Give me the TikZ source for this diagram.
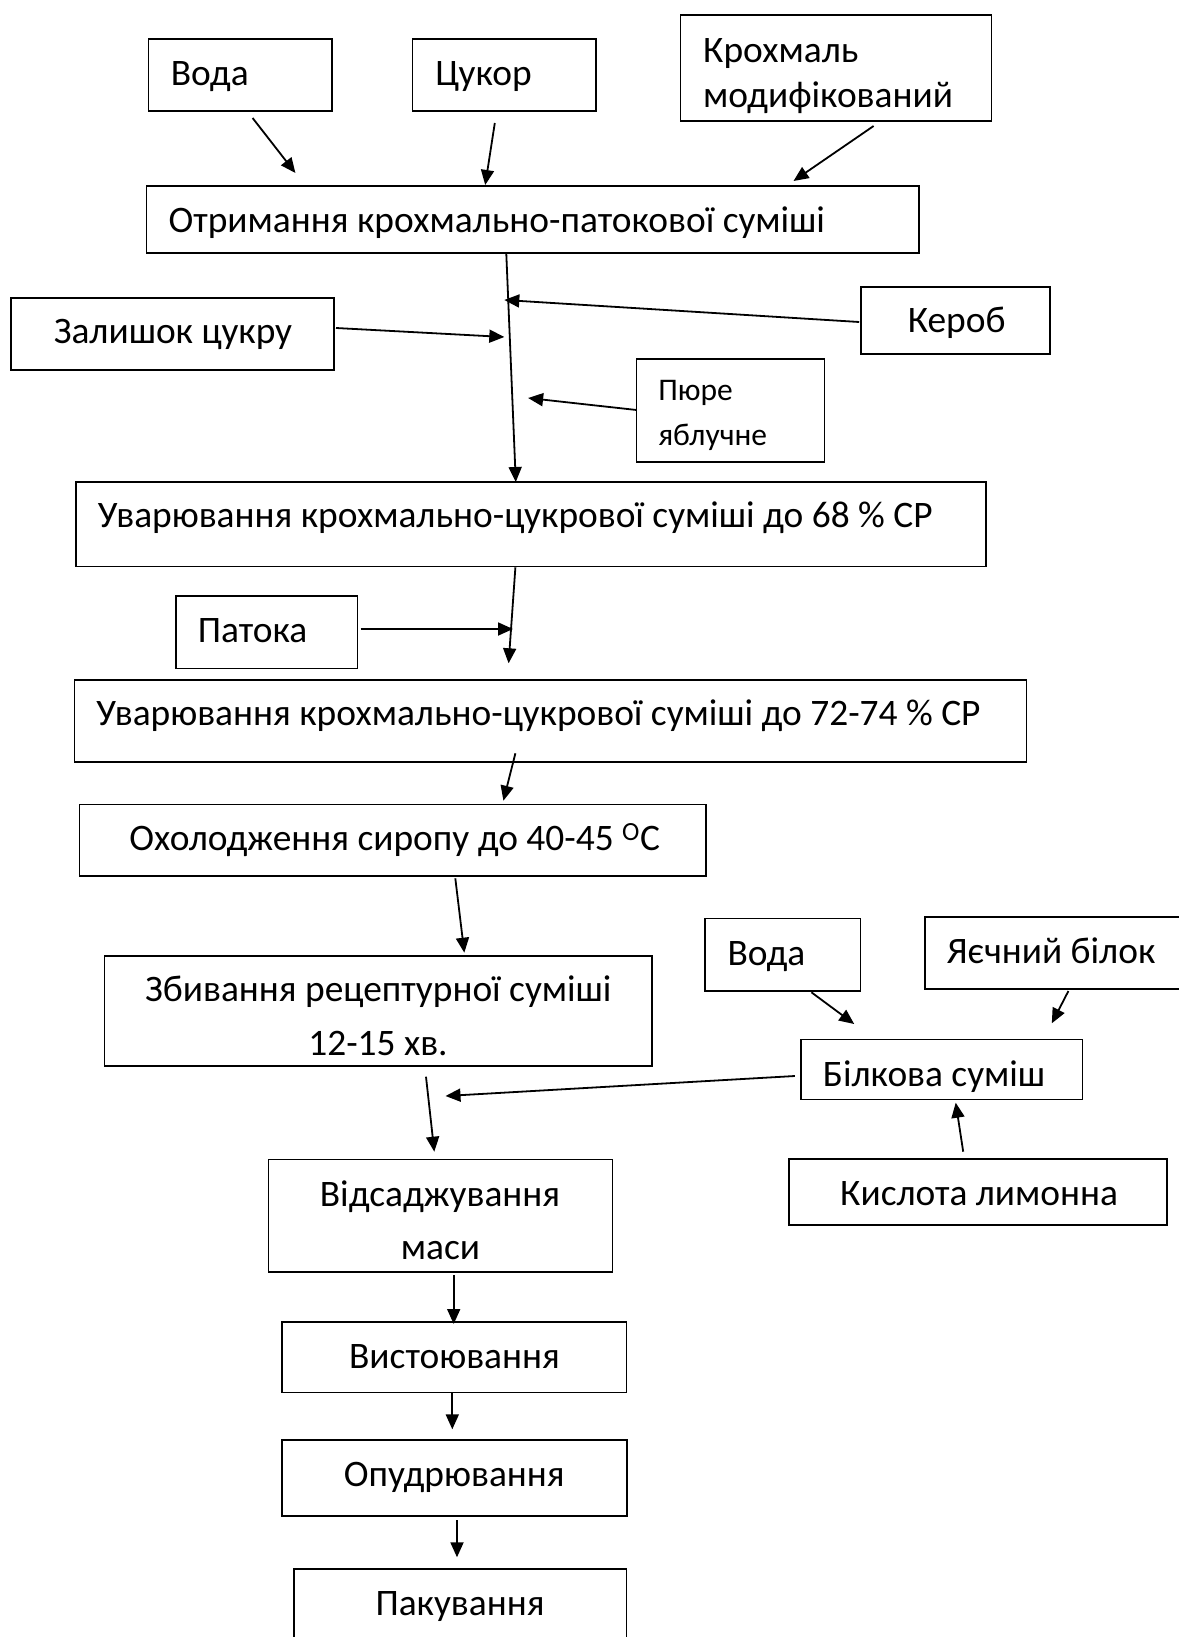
\documentclass[tikz,border=0pt]{standalone}
\usepackage{fontspec}
\setmainfont{Carlito}
\usetikzlibrary{arrows.meta}
\newcommand\mybox[5]{\node[box, minimum width={#4-#2}, minimum height={#5-#3}] (#1) at ({(#2+#4)/2},{(#3+#5)/2}) {};}
\begin{document}
\begin{tikzpicture}[x=1pt,y=-1pt,
  box/.style={draw=black, line width=1.6pt, rectangle, inner sep=0pt, outer sep=0pt},
  txt/.style={anchor=base west, inner sep=0pt, font=\fontsize{37.4}{45}\selectfont},
  smalltxt/.style={anchor=base west, inner sep=0pt, font=\fontsize{31.5}{38}\selectfont},
  arr/.style={line width=1.8pt, -{Triangle[length=15pt,width=13pt]}}]
\useasboundingbox[fill=white] (0,0) rectangle (1178,1637);

% boxes
\mybox{voda}{148.5}{39}{331.8}{111}
\mybox{tsukor}{412.5}{39}{595.8}{111}
\mybox{krokh}{680.6}{15}{991.4}{121}
\mybox{otr}{146.6}{186}{919}{253}
\mybox{zal}{11.1}{298}{333.7}{370}
\mybox{kerob}{861.2}{287}{1049.8}{354}
\mybox{pyure}{636.5}{359}{824.4}{462}
\mybox{uv68}{75.9}{481.7}{986}{566.3}
\mybox{patoka}{175.8}{596}{357.6}{668.3}
\mybox{uv72}{74.4}{680}{1026.3}{761.7}
\mybox{okhol}{79.6}{804.3}{706.2}{876}
\mybox{zbyv}{104.4}{956}{652.1}{1065.7}
\mybox{vodaB}{704.7}{918.3}{860.3}{990.7}
\mybox{yaiech}{924.9}{916.7}{1195}{989}
\mybox{bilk}{800.9}{1039.3}{1082.6}{1099.3}
\mybox{kysl}{788.9}{1159}{1166.8}{1225}
\mybox{vids}{268.5}{1159.3}{612.5}{1271.7}
\mybox{vyst}{282}{1322}{626.3}{1392.3}
\mybox{opudr}{282}{1440}{627}{1516}
\mybox{pak}{293.7}{1569}{626.3}{1670}

% texts
\node[txt] (tVoda) at (170.7,86) {Вода};
\node[txt] (tTsukor) at (435.1,86) {Цукор};
\node[txt] (tKrokh1) at (703,62.7) {Крохмаль};
\node[txt] (tKrokh2) at (703,107.3) {модифікований};
\node[txt] (tOtr) at (168.4,232.3) {Отримання крохмально-патокової суміші};
\node[txt] (tZal) at (53.6,343.3) {Залишок цукру};
\node[txt] (tKerob) at (907.6,332.3) {Кероб};
\node[smalltxt] (tPyure1) at (658.1,400) {Пюре};
\node[smalltxt] (tPyure2) at (658.1,445) {яблучне};
\node[txt] (tUv68) at (97.7,527.3) {Уварювання крохмально-цукрової суміші до 68 \% СР};
\node[txt] (tPatoka) at (197.6,642.7) {Патока};
\node[txt] (tUv72) at (96.2,725) {Уварювання крохмально-цукрової суміші до 72-74 \% СР};
\node[txt] (tOkhol) at (129.2,850) {Охолодження сиропу до 40-45 \textsuperscript{O}С};
\node[txt, anchor=base] (tZbyv1) at (378.3,1001.7) {Збивання рецептурної суміші};
\node[txt, anchor=base] (tZbyv2) at (378,1055) {12-15 хв.};
\node[txt] (tVodaB) at (727.3,965) {Вода};
\node[txt] (tYaiech) at (946.7,963.3) {Яєчний білок};
\node[txt] (tBilk) at (822.7,1086) {Білкова суміш};
\node[txt] (tKysl) at (840,1205) {Кислота лимонна};
\node[txt, anchor=base] (tVids1) at (440,1206.7) {Відсаджування};
\node[txt, anchor=base] (tVids2) at (440.5,1259.3) {маси};
\node[txt, anchor=base] (tVyst) at (454.5,1368.3) {Вистоювання};
\node[txt, anchor=base] (tOpudr) at (454.2,1486.7) {Опудрювання};
\node[txt, anchor=base] (tPak) at (460,1615.7) {Пакування};

% connector ends
\coordinate (a1s) at (252.6,118);  \coordinate (a1e) at (295.4,173);
\coordinate (a2s) at (494.8,123);  \coordinate (a2e) at (485.2,185);
\coordinate (a3s) at (873.6,126);  \coordinate (a3e) at (793.5,181);
\coordinate (ms) at (506.3,254);   \coordinate (me) at (515.8,482);
\coordinate (ke) at (504.3,300);   \coordinate (kst) at (859.2,322);
\coordinate (zs) at (336,328);     \coordinate (ze) at (504.3,337);
\coordinate (pe) at (528.1,398);   \coordinate (pst) at (636.5,410);
\coordinate (b1s) at (515.4,567.3); \coordinate (b1e) at (508.6,663.3);
\coordinate (pts) at (360.6,629);  \coordinate (pte) at (513,629);
\coordinate (b2s) at (515.4,753.3); \coordinate (b2e) at (503.4,800.7);
\coordinate (b3s) at (455.3,878.3); \coordinate (b3e) at (464.3,952.7);
\coordinate (b4s) at (426,1076.7); \coordinate (b4e) at (434.3,1151.7);
\coordinate (vbs) at (811.4,992.3); \coordinate (vbe) at (854.2,1024);
\coordinate (yas) at (1068.4,991); \coordinate (yae) at (1051.8,1023.3);
\coordinate (bls) at (794.9,1076); \coordinate (ble) at (445.5,1096);
\coordinate (kls) at (963.2,1151.7); \coordinate (kle) at (955.7,1102.7);
\coordinate (b5s) at (453.7,1275); \coordinate (b5e) at (453.7,1324);
\coordinate (b6s) at (452.3,1392); \coordinate (b6e) at (452.3,1429.3);
\coordinate (b7s) at (457,1520);   \coordinate (b7e) at (457,1557.3);

% connectors
\draw[arr] (a1s) -- (a1e);
\draw[arr] (a2s) -- (a2e);
\draw[arr] (a3s) -- (a3e);
\draw[arr] (ms) -- (me);
\draw[arr] (kst) -- (ke);
\draw[arr] (zs) -- (ze);
\draw[arr] (pst) -- (pe);
\draw[arr] (b1s) -- (b1e);
\draw[arr] (pts) -- (pte);
\draw[arr] (b2s) -- (b2e);
\draw[arr] (b3s) -- (b3e);
\draw[arr] (b4s) -- (b4e);
\draw[arr] (vbs) -- (vbe);
\draw[arr] (yas) -- (yae);
\draw[arr] (bls) -- (ble);
\draw[arr] (kls) -- (kle);
\draw[arr] (b5s) -- (b5e);
\draw[arr] (b6s) -- (b6e);
\draw[arr] (b7s) -- (b7e);
\end{tikzpicture}
\end{document}
